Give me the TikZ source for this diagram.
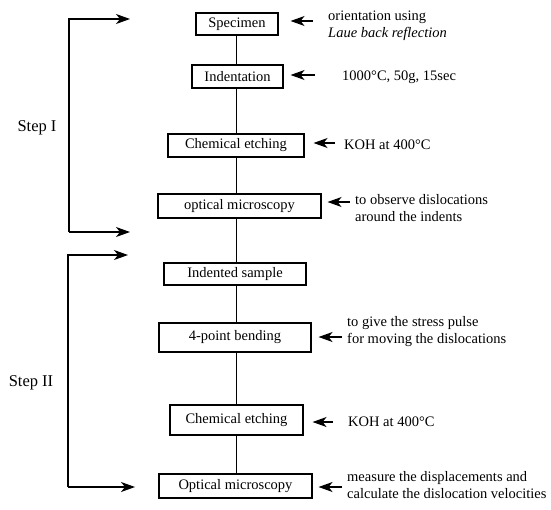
\documentclass[tikz,border=0pt]{standalone}
\usepackage{fontspec}
\setmainfont{Liberation Serif}
\usetikzlibrary{arrows.meta}
\begin{document}
\begin{tikzpicture}[x=1pt,y=-1pt,
  every node/.style={font=\fontsize{14.5}{17}\selectfont},
  stepbox/.style={draw,line width=1.1pt,inner sep=0pt,align=center},
  trunk/.style={line width=0.9pt},
  note/.style={anchor=west,align=left,inner sep=0pt},
  steplabel/.style={font=\fontsize{16.5}{19}\selectfont},
  ann/.style={line width=1.4pt,-{Stealth[length=14pt,width=10pt,inset=4pt]}},
  brk/.style={line width=1.3pt,-{Stealth[length=14pt,width=10pt,inset=4pt]}}]
\useasboundingbox (0,0) rectangle (551,509);
% boxes
\node[stepbox,minimum width=82pt,minimum height=22pt] (b1) at (237,24) {Specimen};
\node[stepbox,minimum width=91pt,minimum height=23pt] (b2) at (237.5,76.5) {Indentation};
\node[stepbox,minimum width=136pt,minimum height=23pt] (b3) at (236,145.5) {Chemical etching};
\node[stepbox,minimum width=163pt,minimum height=24pt] (b4) at (239.5,206) {optical microscopy};
\node[stepbox,minimum width=142pt,minimum height=22pt] (b5) at (235,274) {Indented sample};
\node[stepbox,minimum width=152pt,minimum height=29pt] (b6) at (235,337.5) {4-point bending};
\node[stepbox,minimum width=133pt,minimum height=30pt] (b7) at (236.5,420) {Chemical etching};
\node[stepbox,minimum width=153pt,minimum height=24pt] (b8) at (235.5,486) {Optical microscopy};
% trunk
\coordinate (ax) at (236,0);
\foreach \a/\b in {b1/b2,b2/b3,b3/b4,b4/b5,b5/b6,b6/b7,b7/b8}
  \draw[trunk] (\a.south -| ax) -- (\b.north -| ax);
% notes
\node[note] (n1) at (328,26) {orientation using\\\textit{Laue back reflection}};
\node[note] (n2) at (342,77) {1000°C, 50g, 15sec};
\node[note] (n3) at (344,145) {KOH at 400°C};
\node[note] (n4) at (355,208) {to observe dislocations\\around the indents};
\node[note] (n5) at (347,332) {to give the stress pulse\\for moving the dislocations};
\node[note] (n6) at (348,422) {KOH at 400°C};
\node[note] (n7) at (347,485) {measure the displacements and\\calculate the dislocation velocities};
% annotation arrows
\coordinate (t1) at (313,21);
\coordinate (t2) at (315,75);
\coordinate (t3) at (335,143);
\coordinate (t4) at (350,202);
\coordinate (t5) at (342,337);
\coordinate (t6) at (333,422);
\coordinate (t7) at (342,487);
\draw[ann] (t1) -- ([xshift=12pt]b1.east |- t1);
\draw[ann] (t2) -- ([xshift=7pt]b2.east |- t2);
\draw[ann] (t3) -- ([xshift=9pt]b3.east |- t3);
\draw[ann] (t4) -- ([xshift=6pt]b4.east |- t4);
\draw[ann] (t5) -- ([xshift=7pt]b6.east |- t5);
\draw[ann] (t6) -- ([xshift=9pt]b7.east |- t6);
\draw[ann] (t7) -- ([xshift=6pt]b8.east |- t7);
% brackets
\coordinate (s1a) at (130,19);
\coordinate (s1b) at (130,232);
\coordinate (s2a) at (128,255);
\coordinate (s2b) at (135,487);
\draw[brk] (s1b -| 69,0) -- (s1b);
\draw[brk] (s1b -| 69,0) -- (s1a -| 69,0) -- (s1a);
\draw[brk] (s2b -| 68,0) -- (s2b);
\draw[brk] (s2b -| 68,0) -- (s2a -| 68,0) -- (s2a);
\node[steplabel] (l1) at (37,128) {Step I};
\node[steplabel] (l2) at (31,383) {Step II};
\end{tikzpicture}
\end{document}
